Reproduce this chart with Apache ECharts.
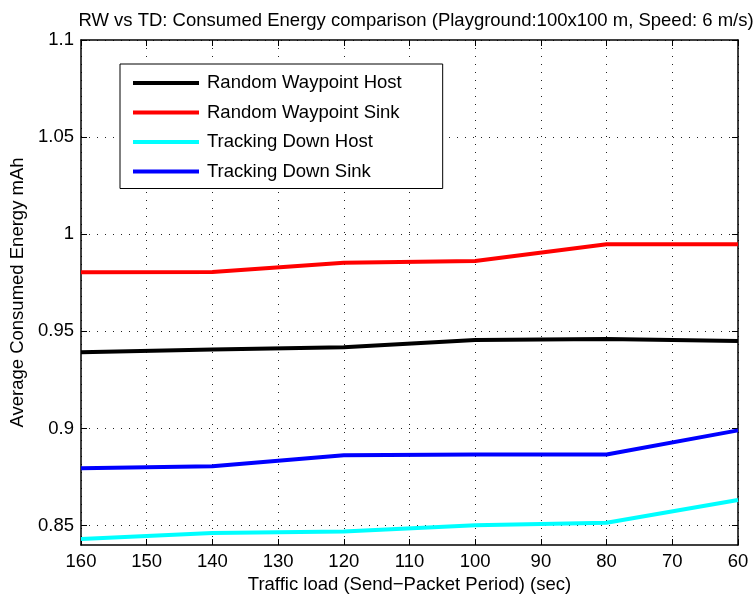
<!DOCTYPE html>
<html>
<head>
<meta charset="utf-8">
<script src="https://cdn.jsdelivr.net/npm/echarts@6/dist/echarts.min.js"></script>
<style>
  html, body { margin: 0; padding: 0; background: #fff; }
  #chart { width: 755px; height: 598px; }
</style>
</head>
<body>
<div id="chart"></div>
<script>
// Send-packet period (sec) for each measurement
const periods = [160, 140, 120, 100, 80, 60];

// Average consumed energy (mAh)
const rwHost = [0.9392, 0.9406, 0.9418, 0.9455, 0.9460, 0.9450];
const rwSink = [0.9804, 0.9805, 0.9853, 0.9862, 0.9948, 0.9948];
const tdHost = [0.8431, 0.8462, 0.8469, 0.8502, 0.8515, 0.8632];
const tdSink = [0.8795, 0.8806, 0.8862, 0.8866, 0.8866, 0.8990];

const seriesNames = [
  'Random Waypoint Host',
  'Random Waypoint Sink',
  'Tracking Down Host',
  'Tracking Down Sink'
];
const seriesColors = ['#000000', '#ff0000', '#00ffff', '#0000ff'];
const seriesValues = [rwHost, rwSink, tdHost, tdSink];

// Y tick labels
const yTicks = [0.85, 0.9, 0.95, 1, 1.05, 1.1];

const FONT = '"Liberation Sans", Arial, Helvetica, sans-serif';
const FS = 18.5;

const chart = echarts.init(document.getElementById('chart'), null, { renderer: 'canvas' });

const gridLine = { show: true, lineStyle: { color: '#222', width: 1, type: [1, 7] } };
const frameLine = { show: true, onZero: false, lineStyle: { color: '#000', width: 1.5 } };
const innerTick = { show: true, inside: true, length: 6, lineStyle: { color: '#000' } };

const option = {
  backgroundColor: '#fff',
  animation: false,
  textStyle: { fontFamily: FONT },
  title: {
    text: 'RW vs TD: Consumed Energy comparison (Playground:100x100 m, Speed: 6 m/s)',
    left: 411,
    textAlign: 'center',
    top: 6,
    textStyle: { fontFamily: FONT, fontSize: FS, fontWeight: 'normal', color: '#000' }
  },
  grid: {
    left: 81, right: 17, top: 40, bottom: 53,
    containLabel: false,
    outerBoundsMode: 'none'
  },
  legend: {
    orient: 'vertical',
    left: 120,
    top: 64,
    padding: [9, 41, 7, 13],
    borderColor: '#000',
    borderWidth: 1,
    backgroundColor: '#fff',
    icon: 'rect',
    itemWidth: 66,
    itemHeight: 4,
    itemGap: 9.5,
    textStyle: { fontFamily: FONT, fontSize: FS, color: '#000', lineHeight: 20, padding: [0, 0, 0, 3] },
    data: seriesNames
  },
  xAxis: [
    {
      type: 'value',
      inverse: true,
      min: 60,
      max: 160,
      interval: 10,
      name: 'Traffic load (Send\u2212Packet Period) (sec)',
      nameLocation: 'middle',
      nameGap: 29,
      nameTextStyle: { fontFamily: FONT, fontSize: FS, color: '#000' },
      axisLine: frameLine,
      axisTick: innerTick,
      axisLabel: { fontFamily: FONT, fontSize: FS, color: '#000', margin: 7 },
      splitLine: gridLine
    },
    {
      type: 'value',
      position: 'top',
      inverse: true,
      min: 60,
      max: 160,
      interval: 10,
      axisLine: frameLine,
      axisTick: innerTick,
      axisLabel: { show: false },
      splitLine: { show: false }
    }
  ],
  yAxis: [
    {
      type: 'value',
      min: 0.84,
      max: 1.1,
      name: 'Average Consumed Energy mAh',
      nameLocation: 'middle',
      nameGap: 48,
      nameTextStyle: { fontFamily: FONT, fontSize: FS, color: '#000' },
      axisLine: frameLine,
      axisTick: Object.assign({ customValues: yTicks }, innerTick),
      axisLabel: {
        fontFamily: FONT, fontSize: FS, color: '#000', margin: 7,
        customValues: yTicks,
        formatter: v => String(+v.toFixed(2))
      },
      splitLine: gridLine
    },
    {
      type: 'value',
      position: 'right',
      min: 0.84,
      max: 1.1,
      axisLine: frameLine,
      axisTick: Object.assign({ customValues: yTicks }, innerTick),
      axisLabel: { show: false },
      splitLine: { show: false }
    }
  ],
  series: seriesNames.map((name, i) => ({
    name: name,
    type: 'line',
    xAxisIndex: 0,
    yAxisIndex: 0,
    data: periods.map((p, j) => [p, seriesValues[i][j]]),
    showSymbol: false,
    symbol: 'none',
    color: seriesColors[i],
    lineStyle: { color: seriesColors[i], width: 4 },
    z: 3 + i
  }))
};

chart.setOption(option);
</script>
</body>
</html>
